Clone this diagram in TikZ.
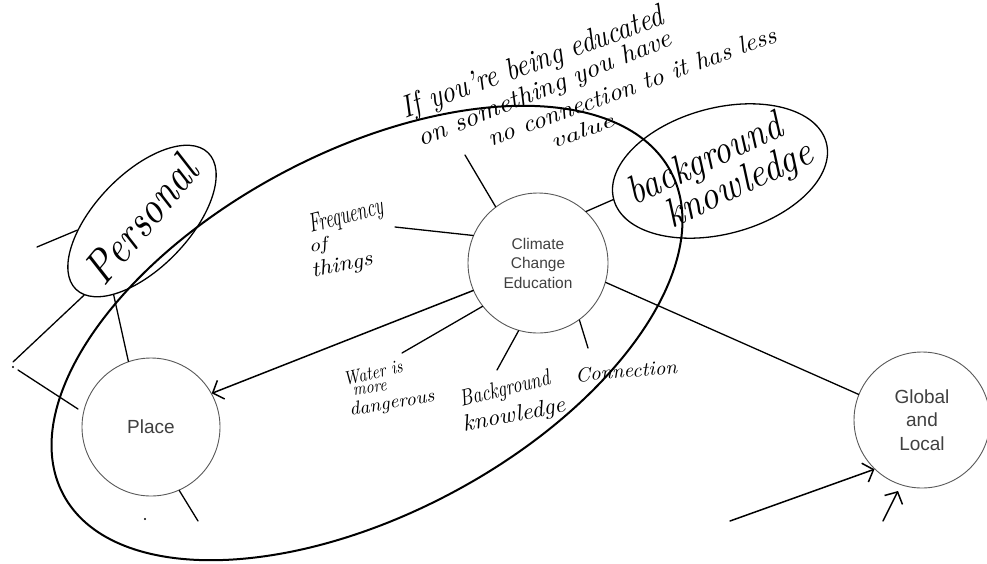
\documentclass[tikz,border=0pt]{standalone}
\usepackage{fontspec}
\usepackage{graphicx}
\newfontfamily\sansf{Liberation Sans}
\usetikzlibrary{arrows.meta,shapes.geometric}
\newcommand\hw[3]{\resizebox{#1pt}{#2pt}{\itshape #3}}
\newcommand\hwz[3]{\smash{\makebox[0pt]{\raisebox{-0.45\height}{\hw{#1}{#2}{#3}}}}}
\begin{document}
\begin{tikzpicture}[x=1pt,y=-1pt,
  topic/.style={circle, draw=black!65, line width=0.9pt, minimum size=140pt, inner sep=0pt,
    align=center, text=black!75, font=\sansf\fontsize{15.5}{19.5}\selectfont},
  bigtopic/.style={topic, font=\sansf\fontsize{19}{23.5}\selectfont},
  hand/.style={inner sep=0pt},
  pen/.style={line width=1.3pt, line cap=round},
  arr/.style={line width=1.5pt, line cap=round, -{Straight Barb[length=9pt,width=20pt,line width=1.5pt]}},
  oval/.style={draw, ellipse, line width=1.3pt, inner sep=0pt},
]
\fill[white] (0,0) rectangle (987,563);
\useasboundingbox (0,0) rectangle (987,563);

% main concept nodes
\node[topic] (cce) at (538,263) {Climate\\Change\\Education};
\node[bigtopic, minimum size=138pt] (place) at (151,427) {Place};
\node[bigtopic, minimum size=136pt] (glob) at (922,420) {Global\\and\\Local};

% hand-drawn ovals
\node[oval, rotate=46, minimum width=190pt, minimum height=94pt] (pers) at (142,221)
  {\rotatebox[origin=c]{4}{\hwz{150}{32}{Personal}}};
\node[oval, rotate=15, minimum width=220pt, minimum height=126pt] (bgk) at (720,171)
  {\smash{\makebox[0pt]{\raisebox{-6pt}{\rotatebox[origin=c]{10}{\begin{tabular}{@{}l@{}}\hw{166}{28}{background}\\[4pt]\hspace{24pt}\hw{158}{28}{knowledge}\end{tabular}}}}}};

% big enclosing ellipse
\draw[line width=2pt, rotate around={28:(367,333)}] (367,333) ellipse [x radius=344, y radius=181];

% handwritten notes
\node[hand, rotate=20] (n1) at (533,64) {\hw{276}{22}{If you're being educated}};
\node[hand, rotate=22] (n2) at (545,90) {\hw{272}{18}{on something you have}};
\node[hand, rotate=20] (n3) at (632,86) {\hw{306}{17}{no connection to it has less}};
\node[hand, rotate=20] (n4) at (582,131) {\hw{66}{14}{value}};
\node[hand, rotate=15] (fq) at (346,217) {\hw{76}{18}{Frequency}};
\node[hand, rotate=10] (of) at (318,246) {\hw{18}{13}{of}};
\node[hand, rotate=12] (th) at (342,266) {\hw{62}{15}{things}};
\node[hand, rotate=13] (wa) at (373,373) {\hw{60}{13}{Water is}};
\node[hand, rotate=8] (mo) at (370,389) {\hw{34}{8}{more}};
\node[hand, rotate=10] (da) at (392,404) {\hw{86}{13}{dangerous}};
\node[hand, rotate=14] (bg) at (505,390) {\hw{92}{16}{Background}};
\node[hand, rotate=11] (kn) at (514,416) {\hw{104}{16}{knowledge}};
\node[hand, rotate=5] (co) at (626,371) {\hw{102}{14}{Connection}};

% free ends
\coordinate (tA) at (465,155);
\coordinate (fA) at (395,227);
\coordinate (wA) at (402,353);
\coordinate (bA) at (497,370);
\coordinate (cA) at (588,348);
\coordinate (l1) at (37,247);
\coordinate (l2) at (13,362);
\coordinate (l3) at (18,370);
\coordinate (l4) at (78,409);
\coordinate (pB) at (198,521);
\coordinate (a1) at (730,521);
\coordinate (a2) at (883,521);
\coordinate (a2e) at (898,491);

% connectors
\draw[pen] (cce.127) -- (tA);
\draw[pen] (cce.157) -- (fA);
\draw[pen] (cce.47) -- (bgk.west);
\draw[pen] (cce.218) -- (wA);
\draw[pen] (cce.254) -- (bA);
\draw[pen] (cce.-54) -- (cA);
\draw[pen] (cce.-16) -- (glob.158);
\draw[arr] (cce.203) -- (place.29);
\draw[pen] (pers.142) -- (l1);
\draw[pen] (pers.186) -- (l2);
\draw[pen] (pers.203) -- (place.109);
\draw[pen] (l3) -- (l4);
\draw[pen] (place.-66) -- (pB);
\draw[arr] (a1) -- (glob.226);
\draw[arr] (a2) -- (a2e);
\fill (13,367) circle (1.2);
\fill (145,519) circle (1.2);
\end{tikzpicture}
\end{document}
